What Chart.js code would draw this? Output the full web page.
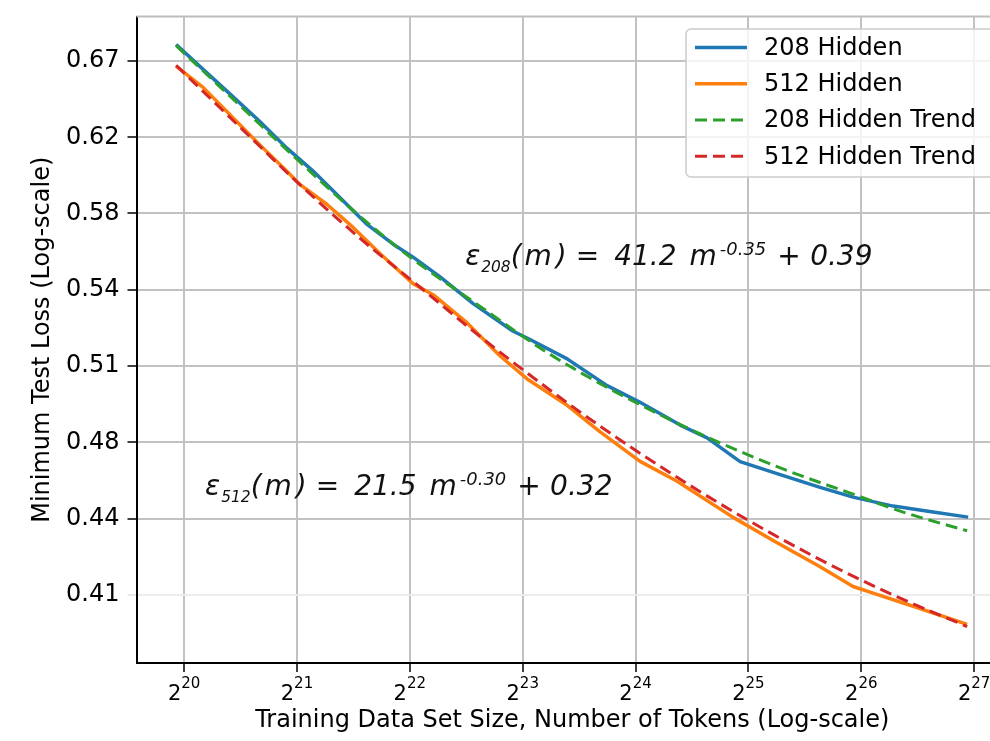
<!DOCTYPE html>
<html><head><meta charset="utf-8">
<script src="https://cdn.jsdelivr.net/npm/chart.js@4.4.0/dist/chart.umd.min.js"></script>
<style>html,body{margin:0;padding:0;background:#fff;overflow:hidden}canvas{display:block}</style>
</head><body>
<canvas id="c" width="990" height="741" style="width:990px;height:741px"></canvas>
<script>
// ---- data (x = log2 of number of tokens, y = minimum test loss) ----
const hidden208X = [19.929, 20.168, 20.408, 20.673, 20.913, 21.143, 21.382, 21.621, 21.852, 22.029, 22.268, 22.561, 22.915, 23.039, 23.394, 23.748, 24.040, 24.395, 24.634, 24.926, 25.281, 25.635, 25.927, 26.282, 26.636, 26.947];
const hidden208Y = [0.6778, 0.6629, 0.6484, 0.6326, 0.6177, 0.6053, 0.5910, 0.5771, 0.5670, 0.5605, 0.5507, 0.5377, 0.5246, 0.5214, 0.5118, 0.4997, 0.4923, 0.4824, 0.4769, 0.4669, 0.4615, 0.4563, 0.4523, 0.4487, 0.4463, 0.4443];
const hidden512X = [19.929, 20.168, 20.470, 20.673, 20.913, 21.028, 21.267, 21.497, 21.737, 22.029, 22.206, 22.508, 22.800, 23.039, 23.394, 23.686, 24.040, 24.368, 24.865, 25.219, 25.635, 25.927, 26.105, 26.459, 26.938];
const hidden512Y = [0.6648, 0.6523, 0.6324, 0.6195, 0.6051, 0.5980, 0.5875, 0.5756, 0.5622, 0.5474, 0.5420, 0.5285, 0.5131, 0.5027, 0.4910, 0.4795, 0.4670, 0.4588, 0.4442, 0.4351, 0.4250, 0.4176, 0.4151, 0.4103, 0.4037];
const trend208X = [19.929, 20.470, 21.028, 21.560, 22.002, 22.649, 23.154, 23.686, 24.244, 24.749, 25.343, 25.928, 26.371, 26.938];
const trend208Y = [0.6771, 0.6433, 0.6101, 0.5812, 0.5605, 0.5354, 0.5168, 0.5006, 0.4862, 0.4748, 0.4632, 0.4535, 0.4463, 0.4389];
const trend512X = [19.929, 20.496, 21.028, 21.559, 22.091, 22.623, 23.154, 23.686, 24.218, 24.749, 25.281, 25.812, 26.344, 26.938];
const trend512Y = [0.6653, 0.6295, 0.5979, 0.5700, 0.5456, 0.5221, 0.5010, 0.4819, 0.4649, 0.4496, 0.4360, 0.4239, 0.4133, 0.4029];
const seriesLabels = ['208 Hidden', '512 Hidden', '208 Hidden Trend', '512 Hidden Trend'];
const xTickExponents = [20, 21, 22, 23, 24, 25, 26, 27];
const yTickValues = [0.4145, 0.4437, 0.4750, 0.5085, 0.5444, 0.5828, 0.6238, 0.6678];
const yTickLabels = ['0.41', '0.44', '0.48', '0.51', '0.54', '0.58', '0.62', '0.67'];
const xTitle = 'Training Data Set Size, Number of Tokens (Log-scale)';
const yTitle = 'Minimum Test Loss (Log-scale)';
// fit annotations: anchor (x, y in data units); parts = [text, size factor, vertical shift (em), gap before (px)]
const fit208 = {x: 22.490, y: 0.5566, parts: [['ε',1,0,0],['208',0.55,0.25,1],['(',1,0,0],['m',1,0,3],[')',1,0,4],['=',1,0,9],['41.2',1,0,15],['m',1,0,13],['-0.35',0.64,-0.36,3],['+',1,0,11],['0.39',1,0,9.5]]};
const fit512 = {x: 20.186, y: 0.4530, parts: [['ε',1,0,0],['512',0.55,0.25,1],['(',1,0,0],['m',1,0,3],[')',1,0,4],['=',1,0,9],['21.5',1,0,15],['m',1,0,13],['-0.30',0.64,-0.36,3],['+',1,0,11],['0.32',1,0,9.5]]};

const FONT = '"DejaVu Sans", sans-serif';
const pts = (xs, ys) => xs.map((x, i) => ({x, y: ys[i]}));
const COLORS = ['#1f77b4', '#ff7f0e', '#2ca02c', '#d62728'];

const overlay = {
  id: 'overlay',
  afterDraw(chart) {
    const ctx = chart.ctx, xs = chart.scales.x, ys = chart.scales.y, ca = chart.chartArea;
    ctx.save();
    // top spine
    ctx.strokeStyle = '#bdbdbd'; ctx.lineWidth = 2;
    ctx.beginPath(); ctx.moveTo(ca.left, ca.top); ctx.lineTo(chart.width, ca.top); ctx.stroke();
    // x tick labels 2^n
    ctx.fillStyle = '#000'; ctx.textBaseline = 'alphabetic'; ctx.textAlign = 'left';
    xTickExponents.forEach(e => {
      const px = xs.getPixelForValue(e);
      ctx.font = '21px ' + FONT;
      const w1 = ctx.measureText('2').width;
      ctx.font = '15px ' + FONT;
      const w2 = ctx.measureText(String(e)).width;
      const x0 = px - (w1 + w2) / 2;
      ctx.font = '21px ' + FONT;
      ctx.fillText('2', x0, ca.bottom + 37);
      ctx.font = '15px ' + FONT;
      ctx.fillText(String(e), x0 + w1, ca.bottom + 25);
    });
    // x axis title, centred on the full axes width (axes continue past the right edge)
    ctx.font = '24px ' + FONT; ctx.textAlign = 'center'; ctx.textBaseline = 'middle';
    ctx.fillText(xTitle, (ca.left + xs.getPixelForValue(27.301)) / 2, 721);
    ctx.textAlign = 'left'; ctx.textBaseline = 'alphabetic';
    // fit annotations
    [fit208, fit512].forEach(f => {
      let cx = xs.getPixelForValue(f.x);
      const by = ys.getPixelForValue(f.y);
      const size = 28;
      ctx.fillStyle = '#111';
      f.parts.forEach(([t, sc, sh, gap]) => {
        cx += gap;
        ctx.font = 'italic ' + (size * sc) + 'px ' + FONT;
        ctx.fillText(t, cx, by + sh * size);
        cx += ctx.measureText(t).width;
      });
    });
    // legend (upper right, frame continues past the right edge)
    const L = 686, T = 29, R = 998, B = 177;
    ctx.fillStyle = 'rgba(255,255,255,0.8)';
    ctx.strokeStyle = '#cccccc'; ctx.lineWidth = 1.5;
    ctx.beginPath();
    if (ctx.roundRect) ctx.roundRect(L, T, R - L, B - T, 5); else ctx.rect(L, T, R - L, B - T);
    ctx.fill(); ctx.stroke();
    const rows = [47.5, 83.8, 120, 156.3];
    chart.data.datasets.forEach((ds, i) => {
      const y = rows[i];
      ctx.strokeStyle = ds.borderColor; ctx.lineWidth = ds.borderWidth;
      ctx.setLineDash(ds.borderDash || []);
      ctx.beginPath(); ctx.moveTo(695, y); ctx.lineTo(747, y); ctx.stroke();
      ctx.setLineDash([]);
      ctx.fillStyle = '#000'; ctx.font = '24px ' + FONT; ctx.textBaseline = 'middle';
      ctx.fillText(ds.label, 764, y + 1);
      ctx.textBaseline = 'alphabetic';
    });
    ctx.restore();
  }
};

new Chart(document.getElementById('c'), {
  type: 'line',
  data: {
    datasets: [
      {label: seriesLabels[0], data: pts(hidden208X, hidden208Y), borderColor: COLORS[0], borderWidth: 3.5, order: 3},
      {label: seriesLabels[1], data: pts(hidden512X, hidden512Y), borderColor: COLORS[1], borderWidth: 3.5, order: 2},
      {label: seriesLabels[2], data: pts(trend208X, trend208Y), borderColor: COLORS[2], borderWidth: 3, borderDash: [12, 6], cubicInterpolationMode: 'monotone', order: 1},
      {label: seriesLabels[3], data: pts(trend512X, trend512Y), borderColor: COLORS[3], borderWidth: 3, borderDash: [12, 6], cubicInterpolationMode: 'monotone', order: 0}
    ]
  },
  options: {
    responsive: false, animation: false, devicePixelRatio: 1,
    layout: {padding: {top: 16.5, right: 0, left: 0, bottom: 0}},
    elements: {point: {radius: 0}, line: {tension: 0, borderCapStyle: 'butt', borderJoinStyle: 'round'}},
    plugins: {legend: {display: false}, tooltip: {enabled: false}},
    scales: {
      x: {
        type: 'linear', min: 19.578, max: 27.1406,
        afterBuildTicks: s => { s.ticks = xTickExponents.map(v => ({value: v})); },
        afterFit: s => { s.height = 78; s.paddingLeft = 0; s.paddingRight = 0; },
        ticks: {callback: () => '', autoSkip: false, maxRotation: 0, padding: 0},
        grid: {color: '#c2c2c2', lineWidth: 2, tickColor: '#000', tickLength: 9, tickWidth: 1.5},
        border: {color: '#000', width: 2},
        title: {display: false}
      },
      y: {
        type: 'logarithmic', min: 0.39265, max: 0.69496,
        afterBuildTicks: s => { s.ticks = yTickValues.map(v => ({value: v})); },
        afterFit: s => { s.width = 136.5; s.paddingTop = 0; s.paddingBottom = 0; },
        ticks: {callback: (v, i) => yTickLabels[i], color: '#000', font: {family: FONT, size: 24}, padding: 8, autoSkip: false},
        grid: {color: c => c.index === 0 ? '#ececec' : '#c2c2c2', lineWidth: 2, tickColor: c => c.index === 0 ? '#e0e0e0' : '#000', tickLength: 9, tickWidth: 1.5},
        border: {color: '#000', width: 2},
        title: {display: true, text: yTitle, color: '#000', font: {family: FONT, size: 24}, padding: {top: 28, bottom: 0}}
      }
    }
  },
  plugins: [overlay]
});
</script>
</body></html>
